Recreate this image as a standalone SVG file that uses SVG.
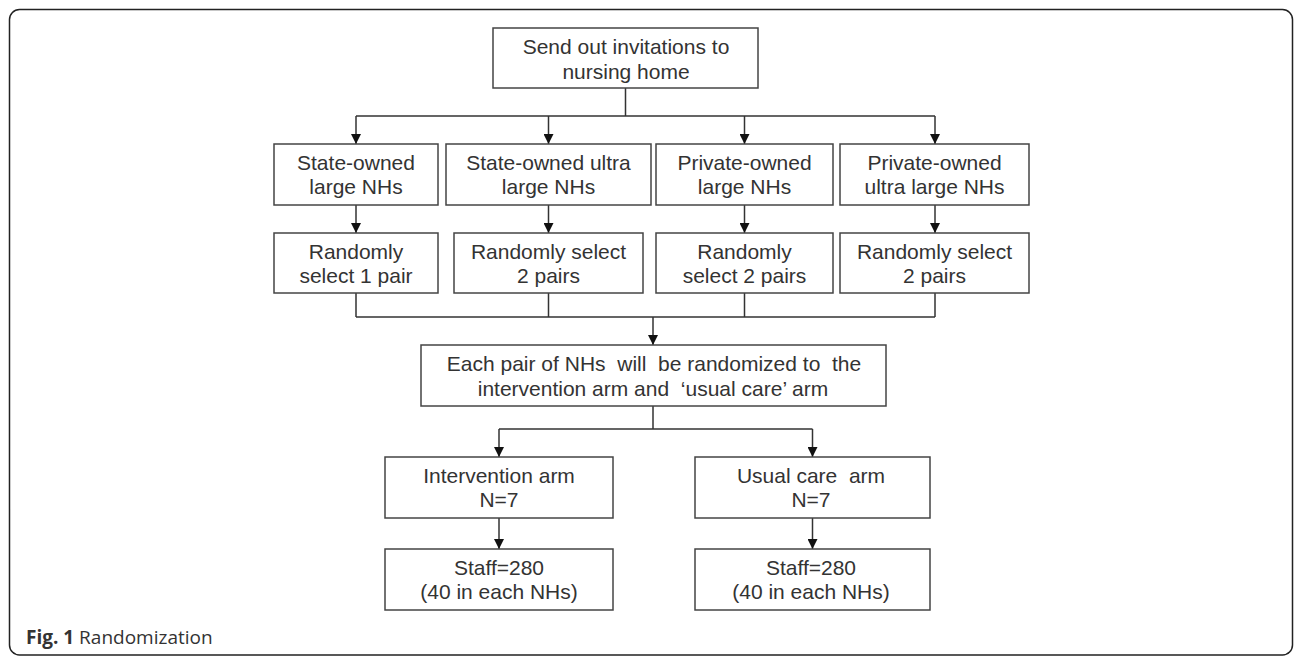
<svg xmlns="http://www.w3.org/2000/svg" width="1296" height="657" viewBox="0 0 1296 657">
<style>
.box{fill:#fff;stroke:#444;stroke-width:1.5}
.t{font-family:"Liberation Sans",Arial,sans-serif;font-size:21px;fill:#333;text-anchor:middle;white-space:pre}
.c{fill:none;stroke:#333;stroke-width:1.5}
.a{fill:none;stroke:#333;stroke-width:1.5;marker-end:url(#arr)}
.cap{font-family:"Open Sans",sans-serif;font-size:19px;fill:#333}
</style>
<defs>
<marker id="arr" viewBox="0 0 10 10" refX="10" refY="5" markerWidth="10" markerHeight="10" markerUnits="userSpaceOnUse" orient="auto">
<path d="M0,0 L10,5 L0,10 z" fill="#111"/>
</marker>
</defs>
<rect x="9.5" y="9.5" width="1283" height="645.5" rx="10" fill="#fff" stroke="#222" stroke-width="1.5"/>
<g id="connectors">
<path class="c" d="M625.5,88 V116 M356,116 H935"/>
<path class="a" d="M356,116 V144"/>
<path class="a" d="M548.5,116 V144"/>
<path class="a" d="M744.5,116 V144"/>
<path class="a" d="M935,116 V144"/>
<path class="a" d="M356,205 V233"/>
<path class="a" d="M548.5,205 V233"/>
<path class="a" d="M744.5,205 V233"/>
<path class="a" d="M935,205 V233"/>
<path class="c" d="M356,293 V317 M548.5,293 V317 M744.5,293 V317 M935,293 V317 M356,317 H935"/>
<path class="a" d="M653,317 V345"/>
<path class="c" d="M653,406 V429 M499,429 H812.5"/>
<path class="a" d="M499,429 V457"/>
<path class="a" d="M812.5,429 V457"/>
<path class="a" d="M499,518 V549"/>
<path class="a" d="M812.5,518 V549"/>
</g>
<g id="n-invite"><rect class="box" x="493" y="28" width="265" height="60"/>
<text class="t" x="626" y="54">Send out invitations to</text><text class="t" x="626" y="78.5">nursing home</text></g>
<g id="n-state-large"><rect class="box" x="274" y="144" width="164" height="61"/>
<text class="t" x="356" y="169.5">State-owned</text><text class="t" x="356" y="193.5">large NHs</text></g>
<g id="n-state-ultra"><rect class="box" x="446" y="144" width="205" height="61"/>
<text class="t" x="548.5" y="169.5">State-owned ultra</text><text class="t" x="548.5" y="193.5">large NHs</text></g>
<g id="n-private-large"><rect class="box" x="656" y="144" width="177" height="61"/>
<text class="t" x="744.5" y="169.5">Private-owned</text><text class="t" x="744.5" y="193.5">large NHs</text></g>
<g id="n-private-ultra"><rect class="box" x="840" y="144" width="189" height="61"/>
<text class="t" x="934.5" y="169.5">Private-owned</text><text class="t" x="934.5" y="193.5">ultra large NHs</text></g>
<g id="n-rand1"><rect class="box" x="274" y="233" width="164" height="60"/>
<text class="t" x="356" y="259">Randomly</text><text class="t" x="356" y="283">select 1 pair</text></g>
<g id="n-rand2"><rect class="box" x="454" y="233" width="189" height="60"/>
<text class="t" x="548.5" y="259">Randomly select</text><text class="t" x="548.5" y="283">2 pairs</text></g>
<g id="n-rand3"><rect class="box" x="656" y="233" width="177" height="60"/>
<text class="t" x="744.5" y="259">Randomly</text><text class="t" x="744.5" y="283">select 2 pairs</text></g>
<g id="n-rand4"><rect class="box" x="840" y="233" width="189" height="60"/>
<text class="t" x="934.5" y="259">Randomly select</text><text class="t" x="934.5" y="283">2 pairs</text></g>
<g id="n-each"><rect class="box" x="421" y="345" width="465" height="61"/>
<text class="t" x="654" y="371">Each pair of NHs  will  be randomized to  the</text><text class="t" x="653" y="395.5">intervention arm and  ‘usual care’ arm</text></g>
<g id="n-intervention"><rect class="box" x="385" y="457" width="228" height="61"/>
<text class="t" x="499" y="482.5">Intervention arm</text><text class="t" x="499" y="506.5">N=7</text></g>
<g id="n-usual"><rect class="box" x="695" y="457" width="235" height="61"/>
<text class="t" x="811" y="482.5">Usual care  arm</text><text class="t" x="811" y="506.5">N=7</text></g>
<g id="n-staff1"><rect class="box" x="385" y="549" width="228" height="61"/>
<text class="t" x="499" y="575">Staff=280</text><text class="t" x="499" y="598.5">(40 in each NHs)</text></g>
<g id="n-staff2"><rect class="box" x="695" y="549" width="235" height="61"/>
<text class="t" x="811" y="575">Staff=280</text><text class="t" x="811" y="598.5">(40 in each NHs)</text></g>
<text class="cap" x="26" y="644"><tspan font-weight="bold">Fig. 1</tspan> Randomization</text>
</svg>
